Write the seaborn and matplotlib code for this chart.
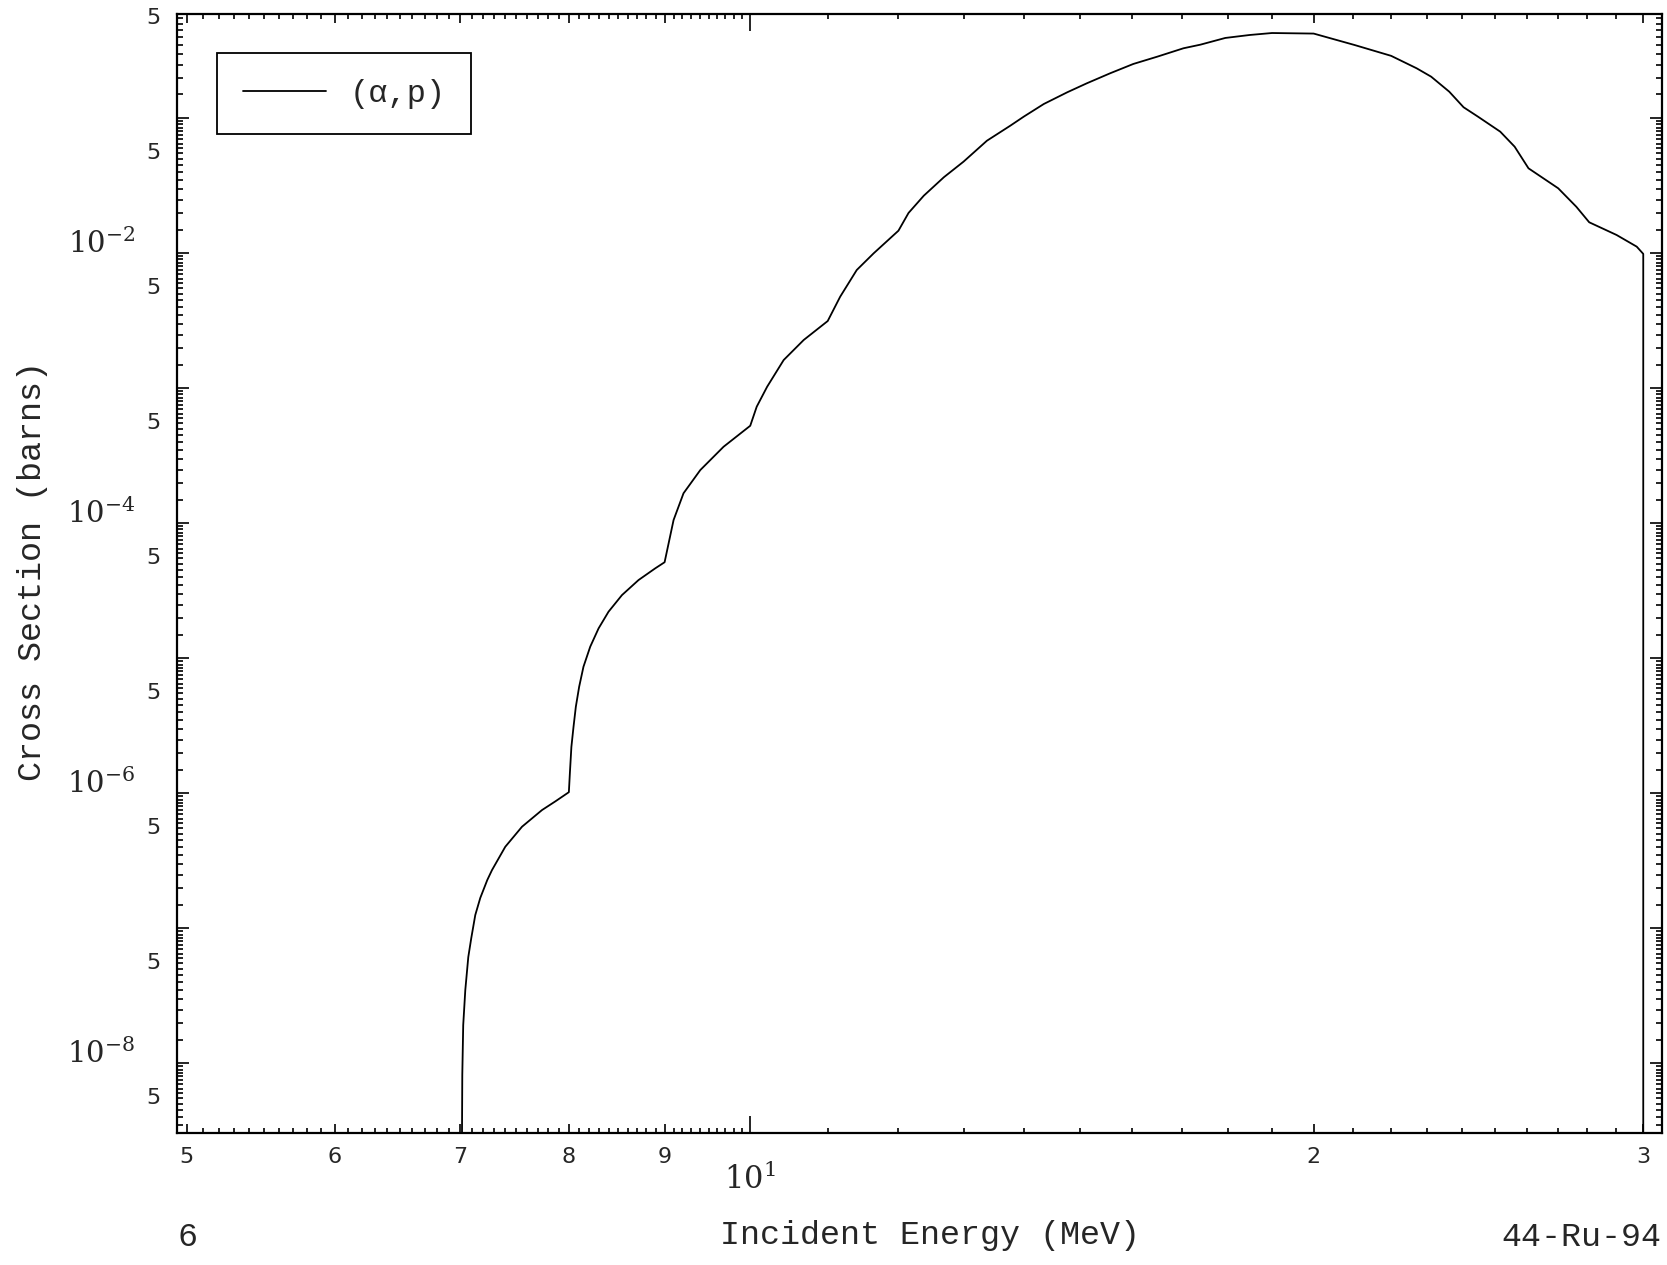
import numpy as np
import pandas as pd
import seaborn as sns
import matplotlib.pyplot as plt
from matplotlib.ticker import NullFormatter

# (alpha,p) cross section of 44-Ru-94
energy = [7.006, 7.017, 7.025, 7.043, 7.069, 7.095, 7.130, 7.174, 7.236,
          7.278, 7.398, 7.552, 7.740, 7.868,
          8.000, 8.010, 8.025, 8.046, 8.069, 8.102, 8.145, 8.213, 8.298,
          8.400, 8.540, 8.716, 8.897,
          9.000, 9.100, 9.212, 9.404, 9.677,
          10.00, 10.08, 10.21, 10.42, 10.68,
          11.00, 11.17, 11.40, 11.64,
          12.00, 12.15, 12.38, 12.69,
          13.00, 13.38, 13.77,
          14.00, 14.35, 14.77, 15.13, 15.57, 16.02, 16.50, 17.04, 17.40,
          17.94, 18.49, 19.00, 20.00, 21.03, 22.00, 22.70, 23.11, 23.63,
          24.05, 24.48, 25.16, 25.61, 26.05, 27.02, 27.63, 28.07, 29.03,
          29.76, 30.00, 30.00]
cross_section = [1.0e-10, 8.2e-9, 1.92e-8, 3.49e-8, 6.13e-8, 8.47e-8, 1.255e-7,
                 1.68e-7, 2.28e-7,
                 2.70e-7, 4.02e-7, 5.66e-7, 7.52e-7, 8.72e-7,
                 1.02e-6, 1.41e-6, 2.21e-6, 3.11e-6, 4.38e-6, 6.16e-6,
                 8.66e-6, 1.219e-5, 1.667e-5, 2.214e-5, 2.94e-5, 3.80e-5,
                 4.64e-5,
                 5.15e-5, 1.058e-4, 1.67e-4, 2.48e-4, 3.69e-4,
                 5.28e-4, 7.31e-4, 1.027e-3, 1.62e-3, 2.28e-3,
                 3.15e-3, 4.77e-3, 7.52e-3, 1.0e-2,
                 1.47e-2, 1.99e-2, 2.67e-2, 3.66e-2,
                 4.77e-2, 6.82e-2, 8.81e-2,
                 0.1028, 0.1276, 0.1558, 0.1816, 0.2154, 0.2525, 0.286,
                 0.330, 0.351, 0.3935, 0.414, 0.428, 0.424, 0.349, 0.290,
                 0.2346, 0.2033, 0.1574, 0.1207, 0.1028, 0.0796, 0.0616,
                 0.0426, 0.0303, 0.0221, 0.01697, 0.01367, 0.0112, 0.0099,
                 1.0e-10]

x_major = [5, 6, 7, 8, 9, 10, 20, 30]
x_major_labels = ['5', '6', '7', '8', '9', '$10^1$', '2', '3']
y_decades = [-1, -2, -3, -4, -5, -6, -7, -8]
y_major_labels = ['', '$10^{-2}$', '', '$10^{-4}$', '', '$10^{-6}$', '', '$10^{-8}$']

MONO = ['Liberation Mono', 'DejaVu Sans Mono']

sns.set_style('ticks')
plt.rcParams['font.family'] = ['DejaVu Sans']
plt.rcParams['mathtext.fontset'] = 'dejavuserif'

df = pd.DataFrame({'Energy': energy, 'CrossSection': cross_section})

fig = plt.figure(figsize=(16.67, 12.65), dpi=100)
ax = fig.add_axes([177 / 1667, 1 - 1133 / 1265, 1485 / 1667, 1119 / 1265])

sns.lineplot(data=df, x='Energy', y='CrossSection', color='black',
             linewidth=1.3, estimator=None, sort=False, label='(\u03b1,p)', ax=ax)

ax.set_xscale('log')
ax.set_yscale('log')

# x ticks: integers labelled, 0.1 steps below 10 and 1 steps above as minors
ax.set_xticks(x_major, labels=x_major_labels)
x_minor = [round(v, 1) for v in np.arange(5.1, 10.0, 0.1) if abs(v - round(v)) > 0.01]
x_minor += [v for v in range(11, 30) if v != 20]
ax.set_xticks(x_minor, minor=True)
ax.xaxis.set_minor_formatter(NullFormatter())

# y ticks: decades, minors every half unit, "5" labelled
ax.set_yticks([10.0 ** d for d in y_decades], labels=y_major_labels)
y_minor, y_minor_labels = [], []
for d in range(-9, 0):
    for s in np.arange(1.5, 10.0, 0.5):
        y_minor.append(s * 10.0 ** d)
        y_minor_labels.append('5' if s == 5 else '')
ax.set_yticks(y_minor, labels=y_minor_labels, minor=True)

ax.set_xlim(4.94, 30.7)
ax.set_ylim(3.05e-9, 0.592)

ax.tick_params(which='both', direction='in', top=True, right=True,
               width=1.2, color='black')
ax.tick_params(axis='x', which='major', length=6.5, pad=10, labelsize=16)
ax.tick_params(axis='x', which='minor', length=3.5)
ax.tick_params(axis='y', which='major', length=8.6, pad=30, labelsize=21)
ax.tick_params(axis='y', which='minor', length=4.0, pad=12, labelsize=16)

for tick, loc in zip(ax.xaxis.get_major_ticks(), x_major):
    if loc == 10:
        tick.set_pad(21)
        tick.tick1line.set_markersize(12.5)
        tick.tick2line.set_markersize(12.5)
        tick.label1.set_fontsize(22)

for tick in ax.yaxis.get_major_ticks() + ax.yaxis.get_minor_ticks():
    tick.label1.set_verticalalignment('baseline')

for sp in ax.spines.values():
    sp.set_linewidth(1.6)
    sp.set_color('black')

leg = ax.legend(loc='upper left', bbox_to_anchor=(0.027, 0.965),
                borderaxespad=0, frameon=True, fancybox=False,
                edgecolor='black', framealpha=1, handlelength=2.6,
                handletextpad=0.75, borderpad=0.8,
                prop={'family': MONO, 'size': 23})
leg.get_frame().set_linewidth(1.3)

ax.set_xlabel('Incident Energy (MeV)', fontsize=24, family=MONO)
ax.xaxis.set_label_coords(0.507, -0.092)
ax.xaxis.label.set_verticalalignment('center')
ax.set_ylabel('Cross Section (barns)', fontsize=24, family=MONO)
ax.yaxis.set_label_coords(-0.0976, 0.502)
ax.yaxis.label.set_verticalalignment('center')

fig.text(187 / 1667, 1 - 1237 / 1265, '6', ha='center', va='center',
         fontsize=24, family=MONO)
fig.text(1661 / 1667, 1 - 1237 / 1265, '44-Ru-94', ha='right', va='center',
         fontsize=24, family=MONO)

fig.savefig('out.png', dpi=100)
